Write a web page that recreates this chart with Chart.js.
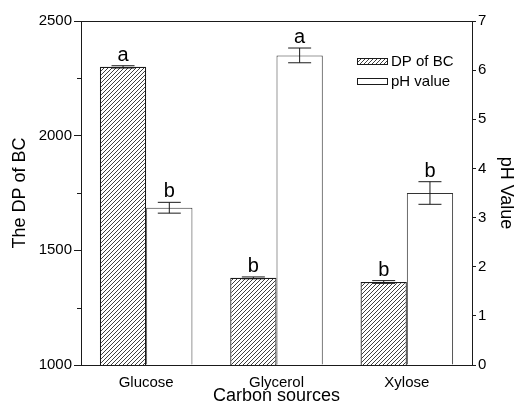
<!DOCTYPE html>
<html>
<head>
<meta charset="utf-8">
<script src="https://cdn.jsdelivr.net/npm/chart.js@4"></script>
<style>
  html, body { margin: 0; padding: 0; background: #fff; }
  #wrap { width: 517px; height: 407px; }
</style>
</head>
<body>
<div id="wrap"><canvas id="chart" width="517" height="407"></canvas></div>
<script>
// data
var categories = ['Glucose', 'Glycerol', 'Xylose'];
var dpValues = [2300, 1380, 1362];
var dpErrors = [5, 4, 6];
var dpLetters = ['a', 'b', 'b'];
var phValues = [3.2, 6.3, 3.5];
var phErrors = [0.11, 0.15, 0.23];
var phLetters = ['b', 'a', 'b'];
var dpTicks = [1000, 1500, 2000, 2500];
var phTicks = [0, 1, 2, 3, 4, 5, 6, 7];

var FONT = '"Liberation Sans", Arial, sans-serif';
var INK = '#1a1a1a';

function hatch() {
    var c = document.createElement('canvas');
    c.width = 4; c.height = 4;
    var g = c.getContext('2d');
    g.fillStyle = '#fff';
    g.fillRect(0, 0, 4, 4);
    g.strokeStyle = '#2a2a2a';
    g.lineWidth = 0.9;
    g.beginPath();
    g.moveTo(-1, 5); g.lineTo(5, -1);
    g.moveTo(-1, 1); g.lineTo(1, -1);
    g.moveTo(3, 5); g.lineTo(5, 3);
    g.stroke();
    return g.createPattern(c, 'repeat');
}
var hatchFill = hatch();

function plain(v) { return String(v); }

// error bars + significance letters
var errorPlugin = {
    id: 'errors',
    afterDatasetsDraw: function (chart) {
        var ctx = chart.ctx;
        var sets = [
            { idx: 0, vals: dpValues, errs: dpErrors, letters: dpLetters, scale: chart.scales.y },
            { idx: 1, vals: phValues, errs: phErrors, letters: phLetters, scale: chart.scales.y1 }
        ];
        ctx.save();
        sets.forEach(function (s) {
            var meta = chart.getDatasetMeta(s.idx);
            meta.data.forEach(function (bar, i) {
                var x = bar.x;
                var top = s.scale.getPixelForValue(s.vals[i] + s.errs[i]);
                var bot = s.scale.getPixelForValue(s.vals[i] - s.errs[i]);
                ctx.strokeStyle = INK;
                ctx.lineWidth = 1;
                ctx.beginPath();
                ctx.moveTo(x, top); ctx.lineTo(x, bot);
                ctx.moveTo(x - 11.5, top); ctx.lineTo(x + 11.5, top);
                ctx.moveTo(x - 11.5, bot); ctx.lineTo(x + 11.5, bot);
                ctx.stroke();
                ctx.fillStyle = '#000';
                ctx.font = '20px ' + FONT;
                ctx.textAlign = 'center';
                ctx.textBaseline = 'alphabetic';
                ctx.fillText(s.letters[i], x, top - 5);
            });
        });
        ctx.restore();
    }
};

// frame, minor ticks and the legend inside the plot
var framePlugin = {
    id: 'frame',
    afterDraw: function (chart) {
        var a = chart.chartArea;
        var ctx = chart.ctx;
        ctx.save();
        ctx.strokeStyle = INK;
        ctx.lineWidth = 1;
        ctx.beginPath();
        ctx.moveTo(a.left, a.top + 0.5); ctx.lineTo(a.right, a.top + 0.5);
        ctx.stroke();
        // minor ticks on the left axis
        var y = chart.scales.y;
        ctx.beginPath();
        for (var v = 1250; v < 2500; v += 500) {
            var py = Math.round(y.getPixelForValue(v)) + 0.5;
            ctx.moveTo(a.left - 4, py); ctx.lineTo(a.left, py);
        }
        ctx.stroke();
        // legend
        var items = chart.data.datasets;
        var lx = 357, ly = 58;
        items.forEach(function (ds, i) {
            var by = ly + i * 20;
            ctx.fillStyle = ds.backgroundColor;
            ctx.fillRect(lx, by, 31, 7);
            ctx.strokeStyle = INK;
            ctx.lineWidth = 1;
            ctx.strokeRect(lx + 0.5, by + 0.5, 30, 6);
            ctx.fillStyle = '#000';
            ctx.font = '15px ' + FONT;
            ctx.textAlign = 'left';
            ctx.textBaseline = 'middle';
            ctx.fillText(ds.label, lx + 34, by + 4);
        });
        ctx.restore();
    }
};

new Chart(document.getElementById('chart'), {
    type: 'bar',
    data: {
        labels: categories,
        datasets: [{
            label: 'DP of BC',
            data: dpValues,
            yAxisID: 'y',
            backgroundColor: hatchFill,
            borderColor: INK,
            borderWidth: 1.2,
            borderSkipped: 'bottom'
        }, {
            label: 'pH value',
            data: phValues,
            yAxisID: 'y1',
            backgroundColor: '#fff',
            borderColor: '#333',
            borderWidth: 1,
            borderSkipped: 'bottom'
        }]
    },
    options: {
        responsive: false,
        animation: false,
        devicePixelRatio: 1,
        layout: { padding: { top: 21, left: 0, right: 0, bottom: 0 } },
        datasets: { bar: { categoryPercentage: 0.71, barPercentage: 1 } },
        plugins: { legend: { display: false }, tooltip: { enabled: false } },
        scales: {
            x: {
                afterFit: function (s) { s.height = 42; },
                grid: { display: false, drawTicks: false },
                border: { color: INK, width: 1 },
                ticks: { color: '#000', font: { family: FONT, size: 15 }, padding: 9 },
                title: { display: true, text: 'Carbon sources', color: '#000',
                         font: { family: FONT, size: 18 }, padding: { top: 0, bottom: 0 } }
            },
            y: {
                position: 'left',
                min: 1000, max: 2500,
                afterFit: function (s) { s.width = 81; },
                afterBuildTicks: function (s) { s.ticks = dpTicks.map(function (v) { return { value: v }; }); },
                grid: { drawOnChartArea: false, tickLength: 7, tickColor: INK },
                border: { color: INK, width: 1 },
                ticks: { color: '#000', font: { family: FONT, size: 15 }, padding: 2, callback: plain },
                title: { display: true, text: 'The DP of BC', color: '#000',
                         font: { family: FONT, size: 18 }, padding: { top: 9, bottom: 0 } }
            },
            y1: {
                position: 'right',
                min: 0, max: 7,
                afterFit: function (s) { s.width = 45; },
                afterBuildTicks: function (s) { s.ticks = phTicks.map(function (v) { return { value: v }; }); },
                grid: { drawOnChartArea: false, tickLength: 4, tickColor: INK },
                border: { color: INK, width: 1 },
                ticks: { color: '#000', font: { family: FONT, size: 15 }, padding: 2, callback: plain },
                title: { display: true, text: 'pH Value', color: '#000',
                         font: { family: FONT, size: 18 }, padding: { top: 0, bottom: 0 } }
            }
        }
    },
    plugins: [errorPlugin, framePlugin]
});
</script>
</body>
</html>
